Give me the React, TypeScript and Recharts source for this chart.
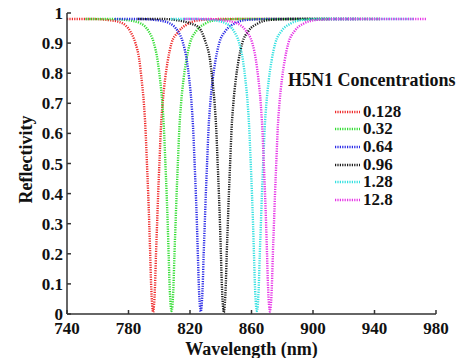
import React from "react";
import { LineChart, Line, XAxis, YAxis, Legend } from "recharts";

// wavelength (nm) / reflectivity samples
const redX = [740, 756, 768, 776, 781, 784.5, 787, 788.5, 790, 791, 792, 792.8, 793.5, 794.1, 794.7, 795.4, 796, 796.6, 797.3, 797.9, 798.6, 799.3, 800.1, 801.1, 802.2, 803.8, 805.5, 808, 812, 818, 826, 841, 898];
const redY = [0.98, 0.98, 0.976, 0.966, 0.94, 0.9, 0.845, 0.78, 0.7, 0.62, 0.5, 0.4, 0.3, 0.2, 0.1, 0.03, 0.006, 0.03, 0.1, 0.2, 0.3, 0.4, 0.5, 0.62, 0.7, 0.78, 0.84, 0.9, 0.935, 0.962, 0.976, 0.98, 0.98];

const greenX = [752, 768, 780, 788, 793, 796.5, 799, 800.5, 802, 803, 804, 804.8, 805.5, 806.1, 806.7, 807.4, 808, 808.6, 809.3, 809.9, 810.6, 811.3, 812.1, 813.1, 814.2, 815.8, 817.5, 820, 824, 830, 838, 853, 910];
const greenY = [0.98, 0.98, 0.976, 0.965, 0.94, 0.9, 0.84, 0.78, 0.7, 0.62, 0.5, 0.4, 0.3, 0.2, 0.1, 0.03, 0.01, 0.03, 0.1, 0.2, 0.3, 0.4, 0.5, 0.62, 0.7, 0.78, 0.84, 0.9, 0.94, 0.965, 0.977, 0.98, 0.98];

const blueX = [771, 787, 799, 807, 812, 815.5, 818, 819.5, 821, 822, 823, 823.8, 824.5, 825.1, 825.7, 826.4, 827, 827.6, 828.3, 828.9, 829.6, 830.3, 831.1, 832.1, 833.2, 834.8, 836.5, 839, 843, 849, 857, 872, 929];
const blueY = [0.98, 0.98, 0.976, 0.965, 0.94, 0.9, 0.84, 0.78, 0.7, 0.62, 0.5, 0.4, 0.3, 0.2, 0.1, 0.03, 0.008, 0.03, 0.1, 0.2, 0.3, 0.4, 0.5, 0.62, 0.7, 0.78, 0.84, 0.9, 0.94, 0.965, 0.977, 0.98, 0.98];

const blackX = [786, 802, 813, 820, 826, 830, 833, 834.5, 836, 837, 838, 838.8, 839.5, 840.1, 840.7, 841.4, 842, 842.6, 843.3, 843.9, 844.6, 845.3, 846.1, 847.1, 848.2, 849.8, 851.5, 854, 858, 864, 872, 887, 944];
const blackY = [0.98, 0.98, 0.975, 0.966, 0.95, 0.905, 0.845, 0.78, 0.7, 0.62, 0.5, 0.4, 0.3, 0.2, 0.1, 0.03, 0.005, 0.03, 0.1, 0.2, 0.3, 0.4, 0.5, 0.62, 0.7, 0.78, 0.84, 0.9, 0.94, 0.965, 0.977, 0.98, 0.98];

const cyanX = [807.5, 823.5, 835.5, 843.5, 848.5, 852, 854.5, 856, 857.5, 858.5, 859.5, 860.3, 861, 861.6, 862.2, 862.9, 863.5, 864.1, 864.8, 865.4, 866.1, 866.8, 867.6, 868.6, 869.7, 871.3, 873, 875.5, 879.5, 885.5, 893.5, 908.5, 965.5];
const cyanY = [0.98, 0.98, 0.976, 0.965, 0.94, 0.9, 0.84, 0.78, 0.7, 0.62, 0.5, 0.4, 0.3, 0.2, 0.1, 0.03, 0.01, 0.03, 0.1, 0.2, 0.3, 0.4, 0.5, 0.62, 0.7, 0.78, 0.84, 0.9, 0.94, 0.965, 0.977, 0.98, 0.98];

const magentaX = [816, 832, 843, 851, 856.5, 860.5, 863, 864.5, 866, 867, 868, 868.8, 869.5, 870.1, 870.7, 871.4, 872, 872.6, 873.3, 873.9, 874.6, 875.3, 876.1, 877.1, 878.2, 879.8, 881.5, 884, 888, 894, 902, 917, 974];
const magentaY = [0.98, 0.98, 0.975, 0.965, 0.94, 0.9, 0.84, 0.78, 0.7, 0.62, 0.5, 0.4, 0.3, 0.2, 0.1, 0.03, 0.008, 0.03, 0.1, 0.2, 0.3, 0.4, 0.5, 0.62, 0.7, 0.78, 0.84, 0.9, 0.94, 0.965, 0.977, 0.98, 0.98];

const concentrations = ["0.128", "0.32", "0.64", "0.96", "1.28", "12.8"];
const colors = ["#ee2a2a", "#33dd33", "#2a2ae6", "#1a1a1a", "#33e0e0", "#e633e6"];

const xTicks = [740, 780, 820, 860, 900, 940, 980];
const yTicks = [0, 0.1, 0.2, 0.3, 0.4, 0.5, 0.6, 0.7, 0.8, 0.9, 1];

const toPoints = (xs: number[], ys: number[]) => xs.map((x, i) => ({ x, y: ys[i] }));

const series = [
  toPoints(redX, redY),
  toPoints(greenX, greenY),
  toPoints(blueX, blueY),
  toPoints(blackX, blackY),
  toPoints(cyanX, cyanY),
  toPoints(magentaX, magentaY),
];

const font = "Liberation Serif, Tinos, Times New Roman, DejaVu Serif, serif";
const tickStyle = { fontFamily: font, fontWeight: 700, fontSize: 17, fill: "#111" };

const LegendBox = (props: any) => {
  const { payload } = props;
  return (
    <div style={{ fontFamily: font, fontWeight: 700, color: "#111" }}>
      <div style={{ fontSize: 18, lineHeight: "20px", whiteSpace: "nowrap" }}>H5N1 Concentrations</div>
      <div style={{ marginLeft: 47, marginTop: 13 }}>
        {(payload || []).map((entry: any) => (
          <div key={entry.value} style={{ display: "flex", alignItems: "center", height: 17.6 }}>
            <svg width={27} height={6} style={{ marginRight: 1 }}>
              <line x1={0} y1={3} x2={25} y2={3} stroke={entry.color} strokeWidth={2.4} strokeDasharray="1.2 1.2" />
            </svg>
            <span style={{ fontSize: 17, lineHeight: "16px" }}>{entry.value}</span>
          </div>
        ))}
      </div>
    </div>
  );
};

export default function App() {
  return (
    <div style={{ position: "absolute", left: 0, top: 0, width: 464, height: 358, background: "#fff" }}>
      <LineChart width={464} height={358} margin={{ top: 13, right: 28, bottom: 14, left: 10 }}>
        <XAxis
          xAxisId="bottom"
          type="number"
          dataKey="x"
          domain={[740, 980]}
          ticks={xTicks}
          allowDataOverflow
          height={30}
          tickSize={-4}
          tickMargin={12}
          tick={tickStyle}
          stroke="#333"
          strokeWidth={1.5}
          label={{
            value: "Wavelength (nm)",
            position: "insideBottom",
            offset: -11,
            style: { fontFamily: font, fontWeight: 700, fontSize: 18, fill: "#111" },
          }}
        />
        <XAxis
          xAxisId="top"
          orientation="top"
          type="number"
          domain={[740, 980]}
          ticks={xTicks}
          allowDataOverflow
          height={0}
          tickSize={-4}
          tickFormatter={() => ""}
          stroke="#333"
          strokeWidth={1.5}
        />
        <YAxis
          yAxisId="left"
          type="number"
          domain={[0, 1]}
          ticks={yTicks}
          width={57}
          tickSize={-4}
          tickMargin={8}
          tick={tickStyle}
          stroke="#333"
          strokeWidth={1.5}
          label={{
            content: (p: any) => {
              const vb = p.viewBox || { x: 10, y: 13, width: 57, height: 301 };
              const cx = vb.x + 16;
              const cy = vb.y + vb.height / 2 - 4;
              return (
                <text
                  x={cx}
                  y={cy}
                  transform={`rotate(-90 ${cx} ${cy})`}
                  textAnchor="middle"
                  dominantBaseline="central"
                  fontFamily={font}
                  fontWeight={700}
                  fontSize={18}
                  fill="#111"
                >
                  Reflectivity
                </text>
              );
            },
          }}
        />
        <YAxis
          yAxisId="right"
          orientation="right"
          type="number"
          domain={[0, 1]}
          ticks={yTicks}
          width={0}
          tickSize={-4}
          tickFormatter={() => ""}
          stroke="#333"
          strokeWidth={1.5}
        />
        <Legend
          layout="vertical"
          align="center"
          verticalAlign="middle"
          content={<LegendBox />}
          wrapperStyle={{ position: "absolute", left: 288, top: 70, width: 176 }}
        />
        {series.map((data, i) => (
          <Line
            key={concentrations[i]}
            xAxisId="bottom"
            yAxisId="left"
            data={data}
            dataKey="y"
            name={concentrations[i]}
            type="monotone"
            stroke={colors[i]}
            strokeWidth={2.4}
            strokeDasharray="1.2 1.2"
            dot={false}
            activeDot={false}
            isAnimationActive={false}
          />
        ))}
      </LineChart>
    </div>
  );
}
